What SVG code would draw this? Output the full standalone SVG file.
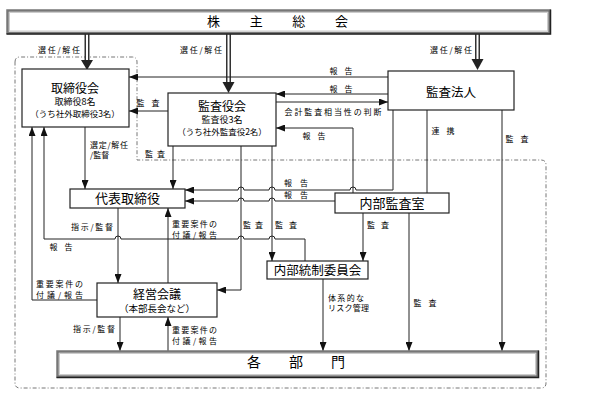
<svg xmlns="http://www.w3.org/2000/svg" width="593" height="401" viewBox="0 0 593 401">
<style>
text{font-family:"Noto Sans CJK JP","Noto Sans",sans-serif;fill:#000}
.lb{font-size:8px}
.t12{font-size:12px}
.t9{font-size:9px}
.t8{font-size:8.5px}
.box{fill:#fff;stroke:#222;stroke-width:1.2}
.ln{fill:none;stroke:#222;stroke-width:1}
.arr{fill:none;stroke:#222;stroke-width:1;marker-end:url(#ah)}
.bnd{fill:none;stroke:#777;stroke-width:1;stroke-dasharray:4 2 1 2}
.dbl{stroke:#333;stroke-width:5}
.dblw{stroke:#fff;stroke-width:2}
.head{fill:#222}
</style>
<defs>
<marker id="ah" viewBox="0 0 9 7" refX="9" refY="3.5" markerWidth="9" markerHeight="7" markerUnits="userSpaceOnUse" orient="auto">
<path d="M0,0 L9,3.5 L0,7 z" fill="#111"/>
</marker>
</defs>
<rect width="593" height="401" fill="#fff"/>

<path class="bnd" d="M15,62 Q15,57 20,57 H132 Q137,57 137,62 V160 H541 Q546,160 546,165 V383 Q546,388 541,388 H20 Q15,388 15,383 Z"/>

<g id="connectors">
  <line class="dbl" x1="87" y1="33" x2="87" y2="61"/>
  <line class="dblw" x1="87" y1="33" x2="87" y2="61"/>
  <path class="head" d="M81,60 L93,60 L87,70 Z"/>
  <line class="dbl" x1="228.5" y1="33" x2="228.5" y2="83"/>
  <line class="dblw" x1="228.5" y1="33" x2="228.5" y2="83"/>
  <path class="head" d="M222.5,82 L234.5,82 L228.5,93 Z"/>
  <line class="dbl" x1="477.5" y1="33" x2="477.5" y2="60"/>
  <line class="dblw" x1="477.5" y1="33" x2="477.5" y2="60"/>
  <path class="head" d="M471.5,59 L483.5,59 L477.5,70 Z"/>

  <path class="arr" d="M388,77 H129"/>
  <path class="arr" d="M388,94 H276"/>
  <path class="arr" d="M276,102 H388"/>
  <path class="arr" d="M168,111 H129"/>
  <path class="arr" d="M353,193 V128 H276"/>
  <path class="arr" d="M85,127 V189"/>
  <path class="arr" d="M173,146 V189"/>
  <path class="arr" d="M393,110 V190 H356 A3,3 0 0 0 350,190 H275 A3,3 0 0 0 269,190 H244 A3,3 0 0 0 238,190 H185"/>
  <path class="arr" d="M335,201 H275 A3,3 0 0 0 269,201 H244 A3,3 0 0 0 238,201 H185"/>
  <path class="ln" d="M427,110 V193"/>
  <path class="arr" d="M502,110 V351"/>
  <path class="arr" d="M118,208 V283"/>
  <path class="arr" d="M168,283 V208"/>
  <path class="arr" d="M305,261 V239 H275 A3,3 0 0 0 269,239 H244 A3,3 0 0 0 238,239 H121 A3,3 0 0 0 115,239 H44 V127"/>
  <path class="arr" d="M97,300 H32 V127"/>
  <path class="arr" d="M272,146 V261"/>
  <path class="arr" d="M241,146 V290 H217"/>
  <path class="arr" d="M363,213 V261"/>
  <path class="arr" d="M409,213 V351"/>
  <path class="arr" d="M323,279 V351"/>
  <path class="arr" d="M120,317 V351"/>
  <path class="arr" d="M168,351 V317"/>
</g>

<g id="labels">
  <text class="lb" x="59" y="53" text-anchor="middle" textLength="42" lengthAdjust="spacing">選任/解任</text>
  <text class="lb" x="201" y="53" text-anchor="middle" textLength="42" lengthAdjust="spacing">選任/解任</text>
  <text class="lb" x="451" y="53" text-anchor="middle" textLength="42" lengthAdjust="spacing">選任/解任</text>
  <text class="lb" x="341" y="74" text-anchor="middle" textLength="23" lengthAdjust="spacing">報 告</text>
  <text class="lb" x="341" y="92" text-anchor="middle" textLength="23" lengthAdjust="spacing">報 告</text>
  <text class="lb" x="333" y="115" text-anchor="middle" textLength="97" lengthAdjust="spacing">会計監査相当性の判断</text>
  <text class="lb" x="148" y="106" text-anchor="middle" textLength="23" lengthAdjust="spacing">監 査</text>
  <text class="lb" x="314" y="139" text-anchor="middle" textLength="23" lengthAdjust="spacing">報 告</text>
  <text class="lb" x="90" y="148" textLength="38" lengthAdjust="spacing">選定/解任</text>
  <text class="lb" x="90" y="158">/監督</text>
  <text class="lb" x="155" y="157" text-anchor="middle" textLength="20" lengthAdjust="spacing">監 査</text>
  <text class="lb" x="443" y="134" text-anchor="middle" textLength="23" lengthAdjust="spacing">連 携</text>
  <text class="lb" x="517" y="142" text-anchor="middle" textLength="23" lengthAdjust="spacing">監 査</text>
  <text class="lb" x="296" y="186" text-anchor="middle" textLength="24" lengthAdjust="spacing">報 告</text>
  <text class="lb" x="296" y="198" text-anchor="middle" textLength="24" lengthAdjust="spacing">報 告</text>
  <text class="lb" x="92" y="230" text-anchor="middle" textLength="42" lengthAdjust="spacing">指示/監督</text>
  <text class="lb" x="172" y="227" textLength="45" lengthAdjust="spacing">重要案件の</text>
  <text class="lb" x="172" y="238" textLength="45" lengthAdjust="spacing">付議/報告</text>
  <text class="lb" x="253" y="228" text-anchor="middle" textLength="20" lengthAdjust="spacing">監 査</text>
  <text class="lb" x="286" y="228" text-anchor="middle" textLength="22" lengthAdjust="spacing">監 査</text>
  <text class="lb" x="378" y="228" text-anchor="middle" textLength="22" lengthAdjust="spacing">監 査</text>
  <text class="lb" x="61" y="250" text-anchor="middle" textLength="23" lengthAdjust="spacing">報 告</text>
  <text class="lb" x="36" y="287" textLength="47" lengthAdjust="spacing">重要案件の</text>
  <text class="lb" x="36" y="298" textLength="47" lengthAdjust="spacing">付議/報告</text>
  <text class="lb" x="328" y="301" textLength="36" lengthAdjust="spacing">体系的な</text>
  <text class="lb" x="328" y="311" textLength="41" lengthAdjust="spacing">リスク管理</text>
  <text class="lb" x="425" y="306" text-anchor="middle" textLength="23" lengthAdjust="spacing">監 査</text>
  <text class="lb" x="94" y="332" text-anchor="middle" textLength="42" lengthAdjust="spacing">指示/監督</text>
  <text class="lb" x="172" y="333" textLength="45" lengthAdjust="spacing">重要案件の</text>
  <text class="lb" x="172" y="344" textLength="45" lengthAdjust="spacing">付議/報告</text>
</g>

<g id="shareholders">
  <rect x="7.5" y="10.5" width="542" height="22.5" fill="#fff" stroke="#777" stroke-width="2.5"/>
  <rect x="9.5" y="12.5" width="538" height="18.5" fill="none" stroke="#ccc" stroke-width="1"/>
  <polyline points="6.5,34 550.5,34 550.5,9.5" fill="none" stroke="#222" stroke-width="1.5"/>
  <text x="277.5" y="26" text-anchor="middle" font-size="13" textLength="141" lengthAdjust="spacing">株 主 総 会</text>
</g>

<g id="board">
  <rect class="box" x="22" y="69" width="107" height="58"/>
  <text class="t12" x="75" y="92.5" text-anchor="middle">取締役会</text>
  <text class="t9" x="75" y="105" text-anchor="middle">取締役8名</text>
  <text class="t8" x="75" y="117" text-anchor="middle">（うち社外取締役3名）</text>
</g>

<g id="auditors">
  <rect class="box" x="168" y="93" width="108" height="53"/>
  <text class="t12" x="222" y="110.5" text-anchor="middle">監査役会</text>
  <text class="t9" x="222" y="123" text-anchor="middle">監査役3名</text>
  <text class="t8" x="222" y="135" text-anchor="middle">（うち社外監査役2名）</text>
</g>

<g id="audit-firm">
  <rect class="box" x="388" y="71" width="126" height="39"/>
  <text x="451" y="97" text-anchor="middle" font-size="12.5">監査法人</text>
</g>

<g id="representative">
  <rect class="box" x="70" y="189" width="115" height="19"/>
  <text x="127.5" y="203" text-anchor="middle" font-size="13">代表取締役</text>
</g>

<g id="internal-audit">
  <rect class="box" x="335" y="193" width="114" height="20"/>
  <text x="392" y="208" text-anchor="middle" font-size="13">内部監査室</text>
</g>

<g id="internal-control">
  <rect class="box" x="267" y="261" width="101" height="18"/>
  <text x="317.5" y="274.5" text-anchor="middle" font-size="12.5">内部統制委員会</text>
</g>

<g id="management">
  <rect class="box" x="97" y="283" width="120" height="34"/>
  <text class="t12" x="157" y="299" text-anchor="middle">経営会議</text>
  <text x="157" y="312" text-anchor="middle" font-size="9.5">（本部長会など）</text>
</g>

<g id="departments">
  <rect x="57.5" y="351.5" width="480" height="25" fill="#fff" stroke="#777" stroke-width="2.5"/>
  <rect x="59.5" y="353.5" width="476" height="21" fill="none" stroke="#ccc" stroke-width="1"/>
  <polyline points="56.5,377.5 538.5,377.5 538.5,350.5" fill="none" stroke="#222" stroke-width="1.5"/>
  <text x="296" y="367" text-anchor="middle" font-size="14" textLength="98" lengthAdjust="spacing">各 部 門</text>
</g>
</svg>
